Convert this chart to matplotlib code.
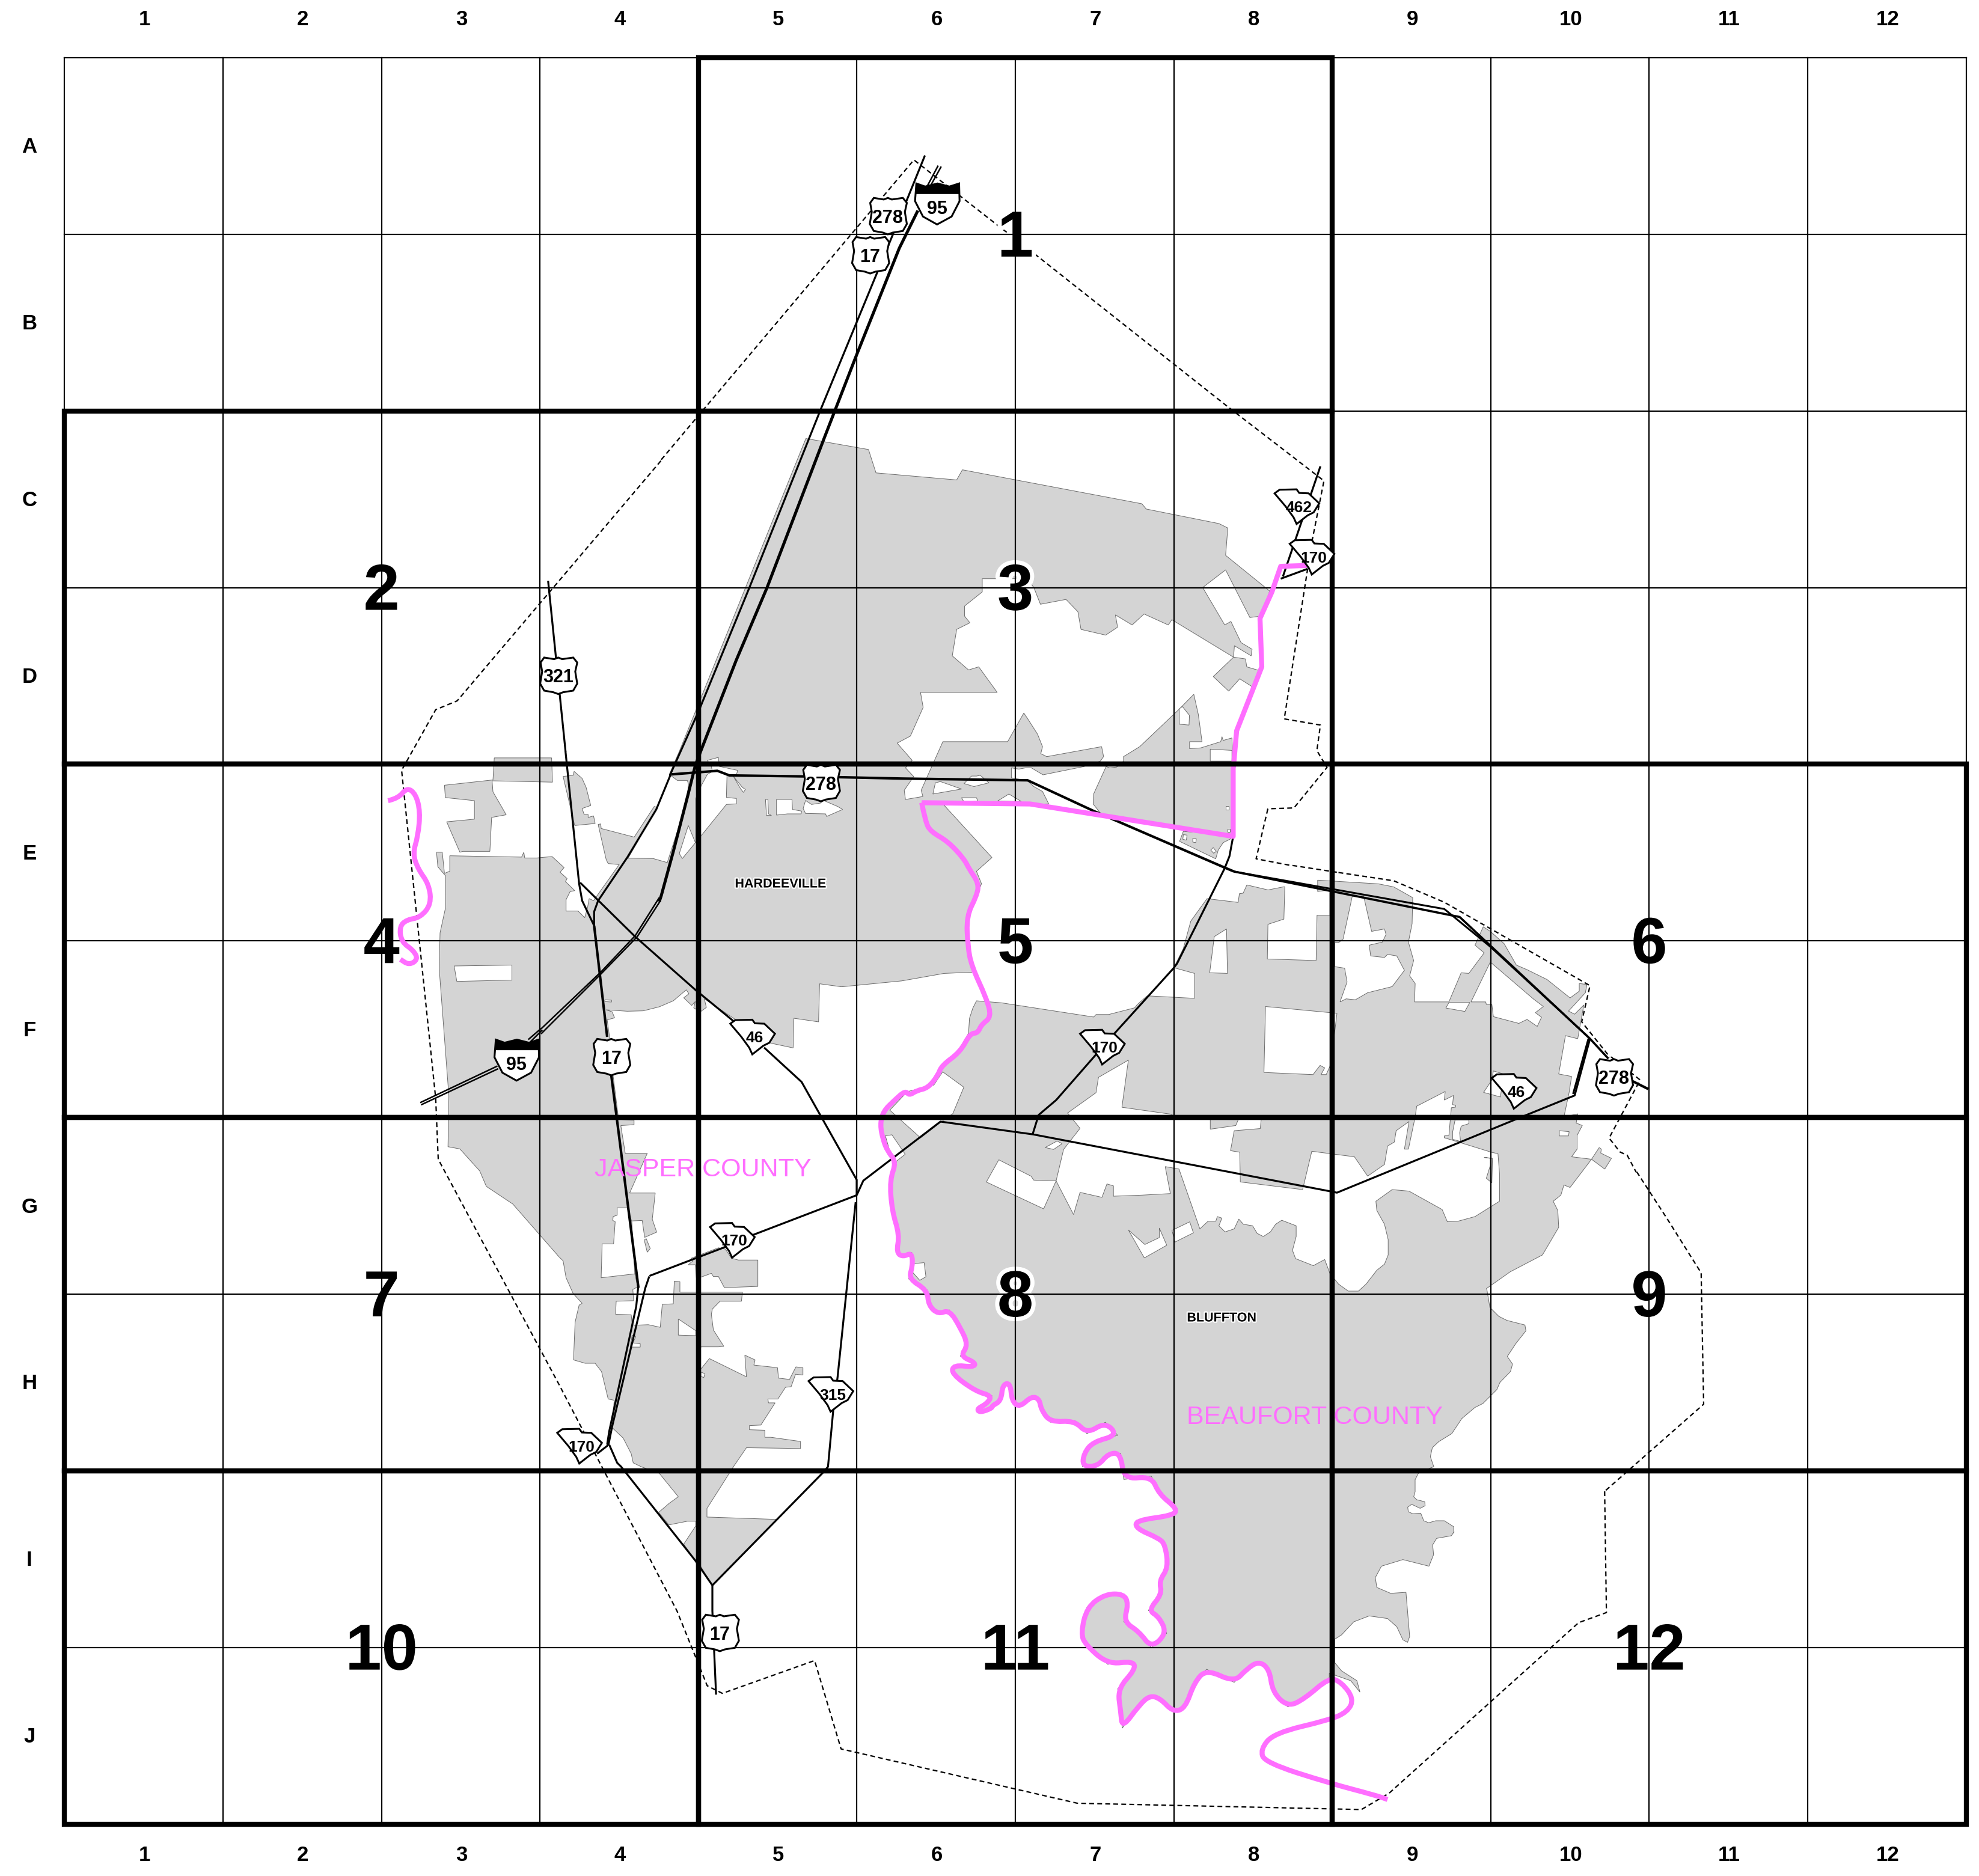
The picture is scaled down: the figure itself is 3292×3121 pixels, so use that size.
import numpy as np
import matplotlib
matplotlib.use("Agg")
import matplotlib.pyplot as plt
import matplotlib.patheffects as pe
from matplotlib.patches import Polygon, PathPatch
from matplotlib.path import Path

plt.rcParams["font.family"] = ["Liberation Sans", "DejaVu Sans"]

W, H = 3292, 3121
GRID_X0, GRID_DX = 107.5, 263.6
GRID_Y0, GRID_DY = 96.0, 293.85
COL_LABELS = [str(i) for i in range(1, 13)]
ROW_LABELS = list("ABCDEFGHIJ")
# map sections: first col, first row, last col, last row
SECTIONS = [(4, 0, 8, 2), (0, 2, 4, 4), (4, 2, 8, 4), (0, 4, 4, 6), (4, 4, 8, 6), (8, 4, 12, 6),
            (0, 6, 4, 8), (4, 6, 8, 8), (8, 6, 12, 8), (0, 8, 4, 10), (4, 8, 8, 10), (8, 8, 12, 10)]

GRAY = "#d4d4d4"
EDGE = "#6a6a6a"
PINK = "#ff6eff"


# outlines were traced off enlarged views, each list keeps that view's own pixel frame
def frame(x0, y0, sx, sy=None):
    sy = sx if sy is None else sy
    return lambda pts: np.array(pts, float) / [sx, sy] + [x0, y0]


v1 = frame(1100, 200, 1.3635)
v2 = frame(600, 1200, 1.3635)
v3 = frame(1450, 1300, 1.206, 1.568)
v4 = frame(1650, 2200, 1.96, 1.837)
v5 = frame(2400, 1450, 3)
v7 = frame(900, 1250, 3)
v8 = frame(1500, 1180, 2.4123)
v9 = frame(1900, 1450, 1.96)
v10 = frame(930, 2000, 3, 2.306)
v11 = frame(2200, 2050, 3)
pv = frame(0, 0, 1 / 2.1008)

# county line (pink)
RIVER_NE = [(1465, 1010), (1405, 1012), (1385, 1070), (1358, 1130), (1362, 1240), (1305, 1385), (1298, 1465)]
RIVER_N1 = [(1330, 230), (1330, 510), (515, 380), (80, 375)]
RIVER_N2 = [(80, 375), (95, 450), (115, 490), (185, 530), (250, 600),
            (270, 640), (310, 700), (300, 750), (260, 830), (265, 950), (280, 1030), (340, 1160), (360, 1235)]
RIVER_N3 = [(320, 1265), (305, 1300), (275, 1300), (235, 1375), (160, 1430), (145, 1470), (105, 1520),
            (60, 1530), (30, 1550), (15, 1530)]
RIVER_W = [(1210, 860), (1185, 885), (1178, 915), (1185, 950), (1195, 975), (1215, 1000), (1200, 1040),
           (1205, 1110), (1222, 1165), (1215, 1205), (1230, 1215), (1250, 1205), (1252, 1235), (1243, 1265),
           (1285, 1290), (1288, 1325), (1310, 1345), (1335, 1335), (1360, 1375), (1378, 1415), (1360, 1440),
           (1395, 1455), (1390, 1465), (1345, 1460), (1340, 1480), (1395, 1520), (1432, 1530), (1420, 1548),
           (1397, 1560), (1405, 1568), (1432, 1558)]
RIVER_S = [(0, 255), (30, 240), (35, 190), (60, 185), (65, 240), (90, 260), (130, 225), (155, 235), (160, 265),
           (190, 305), (270, 300), (310, 340), (370, 305), (410, 345), (330, 365), (300, 400), (295, 440),
           (345, 440), (380, 400), (420, 400), (430, 480), (520, 470), (545, 525), (605, 570), (590, 590),
           (470, 605), (470, 630), (545, 660), (565, 680), (575, 750), (545, 790), (555, 830), (510, 880),
           (545, 900), (570, 950), (520, 995), (480, 945), (430, 915), (445, 860), (430, 830), (370, 830),
           (310, 870), (290, 950), (305, 985), (378, 1045), (460, 1035), (468, 1060), (410, 1120), (420, 1190),
           (425, 1240), (480, 1170), (515, 1140), (550, 1150), (590, 1190), (630, 1180), (660, 1100), (700, 1060),
           (790, 1100), (830, 1060), (870, 1035), (905, 1060), (915, 1130), (965, 1175), (1020, 1150), (1100, 1085)]
RIVER_TAIL = [(1140, 1100), (1180, 1150), (1160, 1190), (1100, 1215), (920, 1255), (875, 1305), (890, 1345),
              (1100, 1408), (1250, 1445), (1290, 1458)]
RIVER_WEST = [(62, 180), (85, 175), (105, 150), (125, 165), (135, 205), (130, 260), (118, 300), (130, 335),
              (155, 370), (160, 415), (135, 445), (105, 450), (88, 465), (92, 500), (120, 520), (130, 540),
              (110, 553), (90, 540)]

# Hardeeville / Jasper land block, clockwise
JASPER_A = [(328, 722), (470, 747), (487, 800), (670, 816), (683, 793), (1090, 870), (1100, 882), (1265, 915),
            (1285, 925), (1280, 987), (1380, 1068), (1360, 1125), (1335, 1128), (1280, 1020), (1228, 1060),
            (1278, 1145), (1292, 1137), (1315, 1185), (1340, 1200), (1338, 1215), (1300, 1192), (1298, 1218),
            (1158, 1133), (1150, 1145), (1095, 1120), (1068, 1145), (1030, 1122), (1035, 1150), (1008, 1168),
            (952, 1155), (945, 1115), (918, 1087), (860, 1098), (845, 1060), (830, 1040), (728, 1040), (728, 1070),
            (688, 1102), (688, 1125), (700, 1140), (670, 1155), (660, 1215), (697, 1247), (720, 1240), (762, 1298),
            (588, 1298), (594, 1332), (565, 1397), (535, 1413)]
JASPER_B = [(42, 205), (15, 235), (48, 270), (10, 325), (15, 362), (85, 350), (78, 325), (165, 130), (425, 130),
            (490, 15), (510, 45), (545, 100), (565, 150), (558, 178), (582, 190), (802, 150), (810, 190), (797, 208),
            (730, 230), (567, 263), (520, 235), (497, 235), (470, 240), (440, 235), (440, 275), (505, 287), (530, 310),
            (565, 330), (590, 380), (515, 380), (170, 385), (362, 595), (300, 650), (320, 700), (290, 780), (260, 850),
            (270, 950), (285, 1055), (170, 1060), (0, 1090)]
JASPER_C = [(1500, 1175), (1390, 1160), (1385, 1350), (1262, 1332), (1258, 1480), (1140, 1455), (980, 1345),
            (815, 1235), (825, 1278), (795, 1300), (762, 1280), (770, 1248), (752, 1268), (712, 1230), (738, 1210),
            (725, 1190), (660, 1245), (590, 1275), (510, 1295), (430, 1297), (325, 1290), (355, 1300), (367, 1330),
            (330, 1340)]
JASPER_D = [(565, 720), (572, 800), (585, 903), (620, 905), (620, 915), (590, 917), (600, 980), (650, 980),
            (610, 1070), (668, 1070)]
JASPER_E = [(475, 0), (465, 65), (487, 115), (427, 135), (415, 70), (362, 72), (378, 275), (392, 325), (368, 335),
            (372, 378), (285, 380), (282, 430), (360, 432), (365, 470), (380, 472), (445, 470), (505, 480), (515, 392),
            (570, 390), (575, 303), (603, 305), (603, 345), (915, 345), (910, 380), (803, 380), (765, 410), (760, 430),
            (770, 490), (822, 553), (795, 555), (708, 555), (695, 600), (708, 640), (750, 600), (935, 670), (927, 587),
            (978, 605), (972, 625), (1090, 635), (1095, 675), (1150, 680), (1182, 632), (1217, 635), (1217, 663),
            (1180, 660), (1170, 682), (1158, 708), (1130, 710), (1092, 755), (1042, 755), (1045, 770), (1078, 770),
            (1007, 855), (950, 857), (950, 873), (1027, 875), (1027, 902), (1057, 902), (1205, 918), (1205, 945),
            (935, 942), (870, 1015), (738, 1175), (738, 1208), (1085, 1217), (765, 1470), (705, 1395), (682, 1378),
            (622, 1312), (682, 1242), (682, 1224), (640, 1224), (548, 1238), (497, 1190), (550, 1155), (595, 1130),
            (500, 1040), (410, 1015), (370, 1000), (360, 965), (320, 905), (265, 865), (275, 760), (245, 755),
            (212, 650), (180, 618), (130, 618), (72, 605), (80, 460), (100, 395), (115, 388), (70, 350), (35, 290),
            (20, 225), (0, 210)]
JASPER_F = [(345, 1095), (285, 1055), (270, 1020), (225, 970), (198, 965), (200, 850), (178, 560), (180, 480),
            (193, 420), (192, 350), (175, 330), (172, 297), (185, 297), (190, 345), (202, 340), (202, 305), (365, 308),
            (370, 297), (372, 310), (400, 310)]
JASPER_G = [(0, 530), (55, 525), (115, 580), (95, 603), (130, 635), (122, 650), (168, 695), (145, 700), (125, 740),
            (125, 797), (185, 797), (218, 830), (232, 780), (240, 735), (262, 745), (390, 565), (335, 560), (325, 540),
            (285, 365), (298, 362), (300, 385), (465, 428), (565, 275), (578, 280), (435, 533), (560, 535), (630, 555),
            (725, 260), (736, 165), (730, 145), (680, 145), (640, 115), (690, 0)]
# separate land pieces
WEST_TOP = [(190, 145), (300, 133), (303, 83), (433, 83), (435, 138), (298, 135), (300, 160), (330, 212), (297, 218),
            (293, 295), (232, 295), (225, 297), (195, 228), (258, 222), (258, 180), (192, 173)]
PIECE_321 = [(110, 125), (160, 120), (165, 100), (205, 135), (225, 180), (248, 270), (205, 285), (215, 315), (235, 315),
             (235, 330), (262, 322), (270, 360), (168, 370)]
PIECE_170 = [(660, 215), (795, 175), (830, 180), (860, 215), (895, 222), (992, 222), (992, 323), (825, 328), (795, 285),
             (770, 285), (760, 273), (710, 287), (685, 290), (680, 240), (645, 240), (668, 225)]
PIECE_TINY = [(425, 145), (435, 140), (455, 178), (440, 192)]
DIAMOND = [(1298, 1218), (1252, 1262), (1287, 1295), (1312, 1267), (1345, 1288), (1362, 1250), (1328, 1240), (1325, 1222)]
NORTH_E = [(820, 230), (835, 235), (862, 232), (890, 208), (890, 190), (955, 150), (1113, 0), (1172, -60), (1190, 20),
           (1205, 130), (1155, 130), (1155, 158), (1200, 155), (1280, 130), (1285, 110), (1290, 125), (1325, 115),
           (1330, 230), (1330, 510), (800, 420), (768, 380), (770, 340)]
NORTH_E2 = [(1130, 490), (1115, 530), (1260, 600), (1270, 565), (1290, 535), (1320, 520), (1325, 505)]
ISLAND = [(1115, 932), (1135, 935), (1135, 958), (1122, 1000), (1140, 1015), (1142, 935)]

# Bluffton / Beaufort land block, clockwise
BEAU_A = [(232, 1365), (268, 1300), (272, 1240), (285, 1200), (300, 1170), (400, 1178), (770, 1235), (780, 1225),
          (830, 1225), (935, 1198), (945, 1185), (985, 1150), (1175, 1160), (1175, 1060), (1092, 1037), (1130, 960),
          (1160, 850), (1225, 760), (1350, 775), (1355, 740), (1370, 738), (1385, 705), (1470, 725), (1535, 712)]
BEAU_B = [(465, 50), (462, 155), (410, 172), (408, 285), (567, 290), (570, 142), (612, 142), (612, 60), (572, 65),
          (572, 28), (770, 40), (820, 50), (882, 85), (880, 170), (868, 230), (885, 290), (872, 340), (890, 365),
          (888, 425), (1000, 425), (1040, 330), (1065, 332), (1115, 265), (1085, 240), (1112, 180), (1135, 195),
          (1180, 235), (1220, 305), (1255, 320), (1320, 352), (1395, 412), (1425, 390), (1425, 365), (1450, 368),
          (1445, 395), (1390, 455), (1410, 465), (1440, 435), (1420, 545), (1380, 535), (1358, 660), (1400, 668),
          (1392, 720), (1375, 800), (1420, 790), (1415, 820), (1435, 828), (1418, 860), (1418, 905), (1400, 930),
          (1465, 938), (1490, 900), (1497, 905), (1495, 918), (1530, 935), (1508, 970), (1465, 938), (1395, 1030),
          (1375, 1022), (1365, 1055), (1340, 1075), (1355, 1105), (1358, 1160), (1305, 1250), (1200, 1305), (1122, 1360)]
BEAU_C = [(820, 285), (835, 375), (880, 420), (920, 440), (1010, 463), (1015, 492), (965, 555), (922, 620), (948, 658),
          (938, 695), (885, 750), (870, 785), (800, 855), (760, 875), (695, 930), (645, 1005), (580, 1045), (548, 1075),
          (538, 1120), (555, 1170), (480, 1200), (462, 1235), (462, 1295), (455, 1320), (470, 1335), (510, 1345),
          (512, 1365), (487, 1378), (445, 1358), (425, 1372), (428, 1395), (450, 1405), (490, 1402), (505, 1440),
          (530, 1450), (565, 1440), (608, 1440), (655, 1470), (655, 1500)]
BEAU_D = [(1507, 640), (1498, 652), (1450, 660), (1437, 680), (1440, 710), (1425, 745), (1340, 725), (1270, 745),
          (1250, 780), (1255, 810), (1300, 828), (1350, 825), (1362, 960), (1355, 978), (1340, 970), (1320, 930),
          (1290, 905), (1230, 897), (1180, 915), (1140, 955), (1118, 968), (1118, 1040), (1140, 1065), (1190, 1095),
          (1200, 1130), (1170, 1095), (1100, 1072)]

# white cut-outs
BAY_A = [(393, 865), (450, 812), (455, 772), (515, 727), (502, 850), (600, 868)]
BAY_B = [(100, 795), (222, 808), (222, 840), (305, 828), (315, 805), (388, 808), (385, 838), (300, 845), (288, 910),
         (318, 915), (320, 1012), (523, 1037), (553, 912), (692, 930), (735, 993), (790, 955), (800, 895), (822, 882),
         (828, 845), (870, 815), (855, 905), (868, 905), (890, 800), (895, 765), (988, 717), (985, 745), (1015, 730),
         (1012, 760), (1022, 762), (1022, 768), (1008, 770), (1000, 860), (985, 862), (985, 868), (1012, 876),
         (1138, 915), (1160, 920), (1165, 985), (1165, 1075), (1085, 1125), (1030, 1140), (995, 1142), (978, 1102),
         (870, 1042), (815, 1037), (762, 1075), (765, 1105), (790, 1150), (802, 1200), (802, 1250), (790, 1280),
         (765, 1300), (730, 1345), (705, 1368), (672, 1368), (640, 1345), (628, 1330), (612, 1310), (595, 1265),
         (558, 1285), (500, 1262), (490, 1235), (502, 1190), (502, 1155), (455, 1137), (435, 1150), (418, 1175),
         (395, 1190), (375, 1180), (360, 1155), (330, 1150), (315, 1133), (300, 1165), (270, 1175), (250, 1155),
         (260, 1130), (245, 1125), (240, 1140), (215, 1140), (188, 1165), (120, 970), (75, 962), (92, 1050), (0, 1055)]
BAY_C = [(485, 1082), (485, 1055), (472, 1050), (462, 1085), (418, 1072), (405, 1130), (370, 1042), (385, 960), (418, 905)]
HOLES_V1 = [[(1175, 1335), (1182, 1330), (1198, 1350), (1197, 1372), (1175, 1370)]]
HOLES_V2 = [[(212, 555), (343, 553), (343, 587), (218, 590)],
            [(1300, 825), (1320, 795), (1368, 830), (1343, 890), (1315, 910), (1270, 945), (1200, 882), (1240, 840)],
            [(1190, 940), (1205, 938), (1235, 982), (1215, 998), (1200, 975)],
            [(1255, 1230), (1278, 1228), (1282, 1260), (1268, 1268), (1252, 1250)]]
HOLES_V3 = [[(515, 1170), (548, 1208), (577, 1190), (577, 1165), (592, 1210), (547, 1243)],
            [(348, 955), (372, 938), (382, 945), (365, 960)],
            [(230, 1045), (255, 987), (320, 1030), (325, 1040), (355, 1042), (370, 1042), (345, 1115)]]
HOLES_V7 = [[(770, 455), (770, 240), (800, 170), (830, 115), (855, 100), (850, 75), (830, 45), (885, 30), (890, 75),
             (982, 95), (975, 115), (928, 118), (925, 230), (975, 235), (975, 262), (925, 265), (800, 420), (705, 535),
             (690, 510), (735, 370)],
            [(960, 125), (1005, 180), (1020, 190), (1010, 205), (995, 185)],
            [(1120, 240), (1132, 240), (1135, 312), (1150, 320), (1125, 320)],
            [(1175, 240), (1252, 240), (1255, 290), (1300, 298), (1298, 312), (1230, 312), (1175, 318)],
            [(1308, 285), (1320, 245), (1350, 265), (1395, 258), (1410, 245), (1480, 275), (1505, 290), (1425, 325),
             (1420, 312), (1320, 310)],
            [(318, 1240), (352, 1242), (352, 1251), (318, 1249)]]
HOLES_V8 = [[(125, 340), (135, 295), (155, 290), (240, 320)],
            [(250, 298), (280, 268), (300, 268), (315, 265), (350, 295), (290, 310)],
            [(240, 355), (300, 355), (305, 368), (250, 372)],
            [(385, 368), (430, 340), (480, 370)],
            [(1238, 160), (1325, 165), (1325, 208), (1238, 208)],
            [(1300, 388), (1312, 388), (1312, 402), (1300, 402)],
            [(1308, 480), (1318, 480), (1318, 492), (1308, 492)],
            [(1130, 503), (1145, 505), (1142, 525), (1128, 522)],
            [(1168, 518), (1182, 520), (1180, 535), (1168, 533)],
            [(1240, 565), (1250, 555), (1262, 570), (1252, 578)]]
HOLES_V9 = [[(235, 212), (275, 187), (278, 332), (220, 330)],
            [(402, 440), (635, 462), (628, 520), (612, 635), (600, 662), (583, 662), (595, 640), (580, 632), (557, 662), (397, 655)],
            [(685, 80), (722, 80), (748, 195), (790, 187), (795, 205), (783, 230), (740, 240), (745, 275), (790, 280),
             (800, 270), (830, 275), (855, 322), (815, 375), (735, 395), (695, 418), (665, 415), (645, 425), (668, 360),
             (660, 315), (628, 310), (628, 232), (640, 232), (655, 220)],
            [(1135, 295), (1275, 415), (1308, 440), (1282, 460), (1302, 475), (1288, 505), (1255, 482), (1228, 495),
             (1145, 473), (1140, 433), (1122, 433), (1120, 425), (1072, 425)],
            [(1000, 427), (1068, 427), (1052, 456), (990, 445)],
            [(1020, 810), (1065, 810), (1065, 822), (1040, 830), (1035, 852), (1038, 880), (1012, 873), (1012, 850)],
            [(1145, 650), (1178, 660), (1168, 735), (1113, 720), (1140, 680)],
            [(1360, 845), (1392, 848), (1390, 862), (1360, 862)],
            [(97, 1170), (155, 1142), (167, 1178), (107, 1208)]]
HOLES_V10 = [[(210, 290), (215, 160), (272, 160), (280, 75), (268, 70), (270, 55), (290, 50), (290, 22), (340, 22),
              (362, 72), (378, 275)],
             [(365, 510), (383, 515), (368, 540), (405, 543), (405, 556), (355, 556)],
             [(595, 448), (682, 493), (682, 512), (595, 510)],
             [(708, 652), (728, 658), (722, 673), (708, 668)]]

# study area boundary (dashed)
LIMIT_A = [(1270.6, 1181), (1272, 1277), (1250, 1285), (1100, 1420), (1078, 1433), (853, 1428), (666, 1385), (645, 1315),
           (572, 1341), (560, 1335), (536, 1275.6), (442.7, 1096.5), (347, 918), (345, 870), (318, 610), (345, 562),
           (362, 555), (523.6, 364.6)]
LIMIT_B = [(0, 770), (573, 90), (765, 240), (830, 290), (1285, 650), (1503, 818), (1475, 960), (1413, 1358), (1495, 1372),
           (1487, 1430), (1510, 1468), (1435, 1560), (1375, 1562)]
LIMIT_C = [(1469, 400), (1422, 600), (1568, 628)]
LIMIT_D = [(490, -20), (640, 3)]
LIMIT_E = [(640, 3), (820, 30), (985, 100), (1460, 372), (1433, 490), (1525, 605)]
LIMIT_F = [(840, 925), (985, 1040), (830, 1330), (885, 1400), (920, 1415), (965, 1500)]
LIMIT_G = [(1296, 928), (1320, 965), (1347, 1008), (1349, 1112), (1270.6, 1181)]

# roads
ROAD_I95_N = [(582, 205), (540, 290), (440, 540), (370, 720), (240, 1060), (170, 1225), (90, 1430)]
ROAD_I95_M = [(770, 70), (735, 210), (660, 500), (600, 720), (590, 750)]
ROAD_I95_L1 = [(590, 730), (470, 920), (300, 1100), (0, 1385)]
ROAD_I95_L2 = [(596, 745), (480, 925), (300, 1110), (0, 1410)]
ROAD_I95_T1 = [(409, 697), (380, 722)]
ROAD_I95_T2 = [(412, 700), (385, 727)]
ROAD_I95_S1 = [(310, 782), (135, 865)]
ROAD_I95_S2 = [(312, 788), (137, 870)]
ROAD_I95_STUB1 = [(635, 105), (610, 150)]
ROAD_I95_STUB2 = [(628, 103), (603, 150)]
ROAD_US17_N = [(598, 80), (525, 260), (360, 660), (200, 1060), (85, 1340), (20, 1485)]
ROAD_US17_M = [(695, 0), (645, 120), (575, 290), (430, 530), (285, 745), (265, 800), (265, 870)]
ROAD_US17_S = [(265, 870), (330, 1425)]
ROAD_US17_S2 = [(568, 800), (630, 1285)]
ROAD_US17_S3 = [(395, 325), (385, 400), (250, 880), (240, 930)]
ROAD_US17_S4 = [(250, 930), (290, 1000), (310, 1015), (680, 1375), (765, 1470), (765, 1568)]
ROAD_US17_END = [(567, 1342)]
ROAD_US321 = [(434, 460), (447.8, 595)]
ROAD_US321_B = [(122, 0), (190, 660), (205, 745), (265, 870)]
ROAD_SC170_W = [(1125, 1075), (890, 1165), (820, 1195), (655, 1258)]
ROAD_SC170_W2 = [(450, 285), (430, 330), (265, 860), (248, 925), (240, 935), (190, 965)]
ROAD_SC170_E = [(1125, 1075), (1140, 1042), (1315, 908), (1525, 937)]
ROAD_SC170_F = [(0, 925), (615, 1043), (635, 1047), (1225, 805), (1410, 730), (1460, 545)]
ROAD_SC170_F2 = [(1405, 725), (1455, 545)]
ROAD_SC170_NE = [(1410, 1035), (1495, 785)]
ROAD_SC170_NE2 = [(1405, 1040), (1465, 1018)]
ROAD_SC170_C = [(620, 1568), (850, 1305), (1090, 1040), (1105, 1020), (1150, 930), (1295, 640), (1315, 590), (1330, 510)]
ROAD_SC170_SPUR = [(323, 920), (335, 870)]
ROAD_SC315 = [(1480, 0), (1390, 670), (1368, 800), (1342, 1015), (1320, 1035), (765, 1470)]
ROAD_SC46_A = [(195, 655), (470, 925), (770, 1190), (965, 1350)]
ROAD_SC46_B = [(915, 740), (1000, 818), (1125, 1040), (1125, 1075)]
ROAD_278_A = [(650, 115), (880, 97), (940, 120), (1310, 125)]
ROAD_278_B = [(0, 278), (505, 285), (770, 408), (1295, 635)]
ROAD_278_C1 = [(300, 0), (1010, 143), (1035, 148), (1460, 545), (1520, 610)]
ROAD_278_C2 = [(300, 0), (985, 122), (1135, 245), (1455, 540)]
ROAD_278_D = [(945, 1045), (1025, 1085)]

# shields: outline relative to centre, in pixels of the view it was read from
US_SHAPE = [(-70, -90), (-20, -82), (0, -90), (20, -82), (75, -90), (95, -65), (85, -20), (95, 40), (75, 75), (25, 83),
            (0, 92), (-25, 83), (-70, 75), (-90, 40), (-80, -20), (-88, -65)]
SC_SHAPE = [(-112, -65), (-87, -83), (-2, -85), (11, -67), (58, -65), (111, -15), (83, 30), (53, 45), (-2, 88), (-17, 55),
            (-57, 0)]
I95_SHAPE = [(-47, -45), (-27, -38), (1, -45), (28, -38), (50, -45), (51, -5), (33, 30), (0, 48), (-32, 30), (-50, -5)]
I95_CAP = [(-47, -45), (-27, -38), (1, -45), (28, -38), (50, -45), (50, -22), (-48, -22)]
US_NAMES = ["278", "17", "321", "278", "17", "278", "17"]
US_X = [703, 689, 442, 650, 484, 1278, 570]
US_Y = [171, 202, 535, 620, 837, 853, 1293]
SC_NAMES = ["462", "170", "170", "46", "170", "315", "170", "46"]
SC_X = [1027, 1039, 873, 596, 580, 658, 459, 1199]
SC_Y = [401, 441, 829, 821, 982, 1104, 1145, 864]
I95_X = [742, 409]
I95_Y = [161, 839]

# place names: text, x, y in full pixels
PLACES = [("HARDEEVILLE", 1298, 1471), ("BLUFFTON", 2032, 2193)]
COUNTIES = [("JASPER COUNTY", 1169, 1946), ("BEAUFORT COUNTY", 2187, 2358)]


fig = plt.figure(figsize=(W / 100, H / 100), dpi=100, facecolor="white")
ax = fig.add_axes([0, 0, 1, 1])
ax.set_xlim(0, W)
ax.set_ylim(H, 0)
ax.axis("off")


def land(pts, z=1):
    ax.add_patch(Polygon(pts, closed=True, fc=GRAY, ec=EDGE, lw=0.7, zorder=z))


def hole(pts):
    ax.add_patch(Polygon(pts, closed=True, fc="white", ec=EDGE, lw=0.7, zorder=2))


def line(pts, lw=2.3, z=3, **kw):
    pts = np.asarray(pts)
    ax.plot(pts[:, 0], pts[:, 1], color=kw.pop("color", "black"), lw=lw, zorder=z,
            solid_capstyle="butt", solid_joinstyle="round", **kw)


def river(pts, lw=6.0):
    # rounded stroke through the traced points, each one used as a bend control
    pts = np.asarray(pts)
    mids = (pts[1:] + pts[:-1]) / 2
    verts, codes = [pts[0]], [Path.MOVETO]
    for ctrl, end in zip(pts[1:-1], mids[1:]):
        verts += [ctrl, end]
        codes += [Path.CURVE3, Path.CURVE3]
    verts.append(pts[-1])
    codes.append(Path.LINETO)
    ax.add_patch(PathPatch(Path(np.array(verts), codes), fc="none", ec=PINK, lw=lw, zorder=6, capstyle="butt",
                           joinstyle="round"))


jasper = np.vstack([v1(JASPER_A), v8(JASPER_B), v7(JASPER_C), v2(JASPER_D), v10(JASPER_E), v2(JASPER_F), v7(JASPER_G)])
land(jasper)
beaufort = np.vstack([v8(BEAU_A), v9(BEAU_B), v11(BEAU_C), v4(BEAU_D), v4(RIVER_S)[::-1], v2(RIVER_W)[::-1],
                      v8(RIVER_N3)[::-1]])
land(beaufort)
for pts in [v2(WEST_TOP), v7(PIECE_321), v10(PIECE_170), v10(PIECE_TINY), v1(DIAMOND), v8(NORTH_E), v8(NORTH_E2)]:
    land(pts)

hole(np.vstack([v3(BAY_A), v9(BAY_B), v3(BAY_C)]))
land(v9(ISLAND), z=2.5)
for view, group in [(v1, HOLES_V1), (v2, HOLES_V2), (v3, HOLES_V3), (v7, HOLES_V7), (v8, HOLES_V8), (v9, HOLES_V9),
                    (v10, HOLES_V10)]:
    for pts in group:
        hole(view(pts))

# roads
line(np.vstack([v1(ROAD_I95_N), v7(ROAD_I95_M)]), lw=3.6)
for pts in [v7(ROAD_I95_L1), v7(ROAD_I95_L2), v2(ROAD_I95_T1), v2(ROAD_I95_T2), v2(ROAD_I95_S1), v2(ROAD_I95_S2),
            v1(ROAD_I95_STUB1), v1(ROAD_I95_STUB2)]:
    line(pts, lw=1.8)
for pts in [np.vstack([v1(ROAD_US17_N), v7(ROAD_US17_M)[1:]]), np.vstack([pv(ROAD_US321), v7(ROAD_US321_B)]),
            v2(ROAD_SC170_W), v10(ROAD_SC170_W2), np.vstack([v2(ROAD_SC170_E), v9(ROAD_SC170_F)]), v9(ROAD_SC170_F2),
            v1(ROAD_SC170_NE), v1(ROAD_SC170_NE2), np.vstack([v3(ROAD_SC170_SPUR), v8(ROAD_SC170_C)]), v10(ROAD_SC315),
            v7(ROAD_SC46_A), v2(ROAD_SC46_B), v10(ROAD_US17_S3), np.vstack([v10(ROAD_US17_S4), pv(ROAD_US17_END)])]:
    line(pts, lw=2.3)
line(v9(ROAD_278_C1), lw=2.6)
line(v9(ROAD_278_C2), lw=2.2)
for pts in [v7(ROAD_US17_S), v2(ROAD_US17_S2), np.vstack([v7(ROAD_278_A), v8(ROAD_278_B), v9(ROAD_278_C1)[:1]]),
            v5(ROAD_278_D)]:
    line(pts, lw=3.0)

# study area limit
for pts in [pv(LIMIT_A), v1(LIMIT_B), v8(LIMIT_C), v9(LIMIT_D), v9(LIMIT_E), v5(LIMIT_F), pv(LIMIT_G)]:
    ax.plot(pts[:, 0], pts[:, 1], color="black", lw=1.6, ls=(0, (3.6, 2.4)), zorder=3.2)

# section numbers, white halo hides what runs underneath
xs = GRID_X0 + GRID_DX * np.arange(13)
ys = GRID_Y0 + GRID_DY * np.arange(11)
for i, (c0, r0, c1, r1) in enumerate(SECTIONS):
    ax.text((xs[c0] + xs[c1]) / 2, (ys[r0] + ys[r1]) / 2 - 2, str(i + 1), fontsize=78, fontweight="bold", ha="center",
            va="center_baseline", zorder=4, path_effects=[pe.withStroke(linewidth=10, foreground="white")])

# thin grid
for x in xs:
    ax.plot([x, x], [ys[0], ys[-1]], color="black", lw=1.6, zorder=5, solid_capstyle="projecting")
for y in ys:
    ax.plot([xs[0], xs[-1]], [y, y], color="black", lw=1.6, zorder=5, solid_capstyle="projecting")

# pink county line
line(np.vstack([v1(RIVER_NE), v8(RIVER_N1)]), lw=6.0, z=6, color=PINK)
river(np.vstack([v8(RIVER_N2), v8(RIVER_N3), v2(RIVER_W), v4(RIVER_S), v4(RIVER_TAIL)]))
river(v2(RIVER_WEST))

# section borders
for c0, r0, c1, r1 in SECTIONS:
    ax.add_patch(plt.Rectangle((xs[c0], ys[r0]), xs[c1] - xs[c0], ys[r1] - ys[r0], fc="none", ec="black", lw=6, zorder=7,
                               joinstyle="miter"))

# grid labels
for x, name in zip((xs[:-1] + xs[1:]) / 2, COL_LABELS):
    for y in (33, 3087):
        ax.text(x + 1, y, name, fontsize=25, fontweight="bold", ha="center", va="center", zorder=9)
for y, name in zip((ys[:-1] + ys[1:]) / 2, ROW_LABELS):
    ax.text(49, y + 2, name, fontsize=25, fontweight="bold", ha="center", va="center", zorder=9)


# shields
def place(shape, x, y, scale):
    return np.array(shape, float) * scale + [x * 2.1008, y * 2.1008]


for name, x, y in zip(US_NAMES, US_X, US_Y):
    ax.add_patch(Polygon(place(US_SHAPE, x, y, 1 / 3), fc="white", ec="black", lw=2.2, zorder=8))
    ax.text(x * 2.1008, y * 2.1008, name, fontsize=22, fontweight="bold", ha="center", va="center_baseline", zorder=9)
for name, x, y in zip(SC_NAMES, SC_X, SC_Y):
    ax.add_patch(Polygon(place(SC_SHAPE, x, y, 1 / 3), fc="white", ec="black", lw=2.2, zorder=8))
    ax.text(x * 2.1008 + 3, y * 2.1008, name, fontsize=19, fontweight="bold", ha="center", va="center_baseline", zorder=9)
for x, y in zip(I95_X, I95_Y):
    ax.add_patch(Polygon(place(I95_SHAPE, x, y, 1 / 1.3635), fc="white", ec="black", lw=2.2, zorder=8))
    ax.add_patch(Polygon(place(I95_CAP, x, y, 1 / 1.3635), fc="black", ec="black", lw=1, zorder=8.5))
    ax.text(x * 2.1008, y * 2.1008 + 6, "95", fontsize=22, fontweight="bold", ha="center", va="center_baseline", zorder=9)

# names
for name, x, y in PLACES:
    ax.text(x, y, name, fontsize=15.5, fontweight="bold", ha="center", va="center", zorder=9,
            path_effects=[pe.withStroke(linewidth=3, foreground="white")])
for name, x, y in COUNTIES:
    ax.text(x, y, name, fontsize=31, color=PINK, ha="center", va="center", zorder=9)

fig.savefig("out.png", dpi=100, facecolor="white")
